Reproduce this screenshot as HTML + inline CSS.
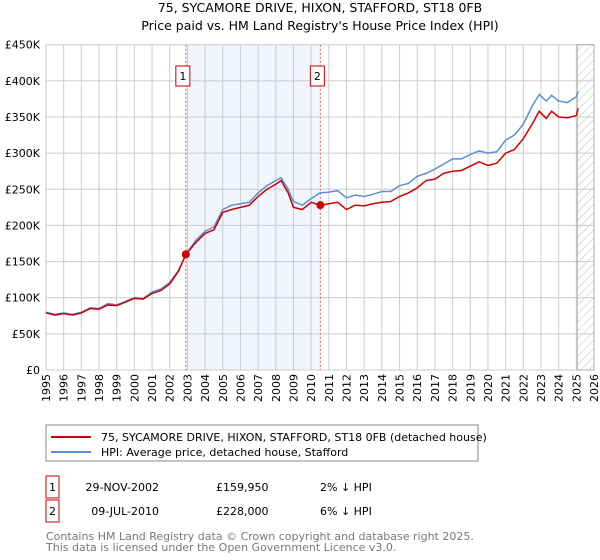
<!DOCTYPE html>
<html><head><meta charset="utf-8"><style>
body{margin:0;background:#fff;font-family:"DejaVu Sans","Liberation Sans",sans-serif;}
svg{display:block}
</style></head><body>
<svg id="c" width="600" height="560" xmlns="http://www.w3.org/2000/svg" font-family="DejaVu Sans, Liberation Sans, sans-serif">
<text x="320" y="12" text-anchor="middle" font-size="12.5">75, SYCAMORE DRIVE, HIXON, STAFFORD, ST18 0FB</text>
<text x="320" y="30" text-anchor="middle" font-size="12.5">Price paid vs. HM Land Registry's House Price Index (HPI)</text>
<g id="plot"></g>
<g>
<rect x="46" y="425" width="432" height="36" fill="#fff" stroke="#888"/>
<line x1="51" y1="437" x2="91" y2="437" stroke="#cc0000" stroke-width="2"/>
<text x="101" y="441" font-size="11">75, SYCAMORE DRIVE, HIXON, STAFFORD, ST18 0FB (detached house)</text>
<line x1="51" y1="452" x2="91" y2="452" stroke="#5b8fd4" stroke-width="2"/>
<text x="101" y="456" font-size="11">HPI: Average price, detached house, Stafford</text>
</g>
<g font-size="11">
<rect x="46" y="476" width="13" height="22" fill="#fff" stroke="#cc0000"/>
<text x="52.5" y="491" text-anchor="middle">1</text>
<text x="159" y="491" text-anchor="end">29-NOV-2002</text>
<text x="216" y="491">£159,950</text>
<text x="320" y="491">2% ↓ HPI</text>
<rect x="46" y="500" width="13" height="22" fill="#fff" stroke="#cc0000"/>
<text x="52.5" y="515" text-anchor="middle">2</text>
<text x="159" y="515" text-anchor="end">09-JUL-2010</text>
<text x="216" y="515">£228,000</text>
<text x="320" y="515">6% ↓ HPI</text>
</g>
<text x="46" y="540" font-size="11" fill="#777">Contains HM Land Registry data © Crown copyright and database right 2025.</text>
<text x="46" y="551" font-size="11" fill="#777">This data is licensed under the Open Government Licence v3.0.</text>
</svg>
<script>
const yTicks=[0,50,100,150,200,250,300,350,400,450];
const yTickLabels=["£0","£50K","£100K","£150K","£200K","£250K","£300K","£350K","£400K","£450K"];
const years=[1995,1996,1997,1998,1999,2000,2001,2002,2003,2004,2005,2006,2007,2008,2009,2010,2011,2012,2013,2014,2015,2016,2017,2018,2019,2020,2021,2022,2023,2024,2025,2026];
const hpiT=[1995,1995.5,1996,1996.5,1997,1997.5,1998,1998.5,1999,1999.5,2000,2000.5,2001,2001.5,2002,2002.5,2003,2003.5,2004,2004.5,2005,2005.5,2006,2006.5,2007,2007.5,2008,2008.3,2008.7,2009,2009.5,2010,2010.5,2011,2011.5,2012,2012.5,2013,2013.5,2014,2014.5,2015,2015.5,2016,2016.5,2017,2017.5,2018,2018.5,2019,2019.5,2020,2020.5,2021,2021.5,2022,2022.5,2022.9,2023.3,2023.6,2024,2024.5,2025,2025.1];
const hpiV=[80,77,79,77,80,86,85,92,90,95,100,99,108,112,121,138,163,180,192,198,222,228,230,232,245,255,262,266,250,233,228,237,245,246,248,238,242,240,243,247,247,255,258,268,272,278,285,292,292,298,303,300,302,318,325,340,365,381,372,380,372,370,378,385];
const ppT=[1995,1995.5,1996,1996.5,1997,1997.5,1998,1998.5,1999,1999.5,2000,2000.5,2001,2001.5,2002,2002.5,2002.91,2003.5,2004,2004.5,2005,2005.5,2006,2006.5,2007,2007.5,2008,2008.3,2008.7,2009,2009.5,2010,2010.52,2011,2011.5,2012,2012.5,2013,2013.5,2014,2014.5,2015,2015.5,2016,2016.5,2017,2017.5,2018,2018.5,2019,2019.5,2020,2020.5,2021,2021.5,2022,2022.5,2022.9,2023.3,2023.6,2024,2024.5,2025,2025.1];
const ppV=[79,76,78,76,79,85,84,90,89,94,99,98,106,110,119,137,160,177,189,194,218,222,225,228,240,250,257,262,245,225,222,232,228,230,232,222,228,227,230,232,233,240,245,252,262,264,272,275,276,282,288,283,286,300,305,320,340,358,348,358,350,349,352,362];
const sales=[{t:2002.91,v:159.95,n:"1"},{t:2010.52,v:228,n:"2"}];
const X0=46,X1=594,Y0=370,Y1=44.7;
const x=t=>X0+(t-1995)/(2026-1995)*(X1-X0);
const y=v=>Y0-v/450*(Y0-Y1);
const NS="http://www.w3.org/2000/svg";
const g=document.getElementById('plot');
function mk(tag,a){const e=document.createElementNS(NS,tag);for(const k in a)e.setAttribute(k,a[k]);g.appendChild(e);return e;}
let e=mk('rect',{x:x(sales[0].t),y:Y1,width:x(sales[1].t)-x(sales[0].t),height:Y0-Y1,fill:'#eef3fc',opacity:0.8});


years.forEach(yr=>{
 const l=mk('line',{x1:x(yr),x2:x(yr),y1:Y1,y2:Y0,stroke:'#ccc','stroke-width':1});
 
 
 const t=mk('text',{x:0,y:0,'font-size':11,'text-anchor':'end',transform:`translate(${x(yr)+4},${Y0+4}) rotate(-90)`});
 t.textContent=yr;
 
 
});
yTicks.forEach((v,i)=>{
 const l=mk('line',{x1:X0,x2:X1,y1:y(v),y2:y(v),stroke:'#ccc','stroke-width':1});
 
 
 const t=mk('text',{x:X0-6,y:y(v)+4,'font-size':11,'text-anchor':'end'});
 t.textContent=yTickLabels[i];
 
 
});
const defs=mk('defs',{});
defs.innerHTML='<pattern id="h" width="6" height="6" patternUnits="userSpaceOnUse" patternTransform="rotate(45)"><line x1="0" y1="0" x2="0" y2="6" stroke="#bbb" stroke-width="1"/></pattern>';
e=mk('rect',{x:x(2025.05),y:Y1,width:X1-x(2025.05),height:Y0-Y1,fill:'url(#h)',stroke:'#aaa'});


sales.forEach(s=>{
 const l=mk('line',{x1:x(s.t),x2:x(s.t),y1:Y1,y2:Y0,stroke:'#e06060','stroke-dasharray':'2,2','stroke-width':1});
 
 
});
const hp=mk('polyline',{points:hpiT.map((t,i)=>x(t)+','+y(hpiV[i])).join(' '),fill:'none',stroke:'#5b8fd4','stroke-width':1.5});


const pp=mk('polyline',{points:ppT.map((t,i)=>x(t)+','+y(ppV[i])).join(' '),fill:'none',stroke:'#cc0000','stroke-width':1.5});


sales.forEach(s=>{
 const c=mk('circle',{cx:x(s.t),cy:y(s.v),r:4,fill:'#cc0000'});
 
 
 const b=mk('rect',{x:x(s.t)-10,y:66,width:14,height:20,fill:'#fff',stroke:'#cc0000'});
 
 
 const t=mk('text',{x:x(s.t)-3,y:80,'font-size':11,'text-anchor':'middle'});
 t.textContent=s.n;
 
 
});
</script>
</body></html>
